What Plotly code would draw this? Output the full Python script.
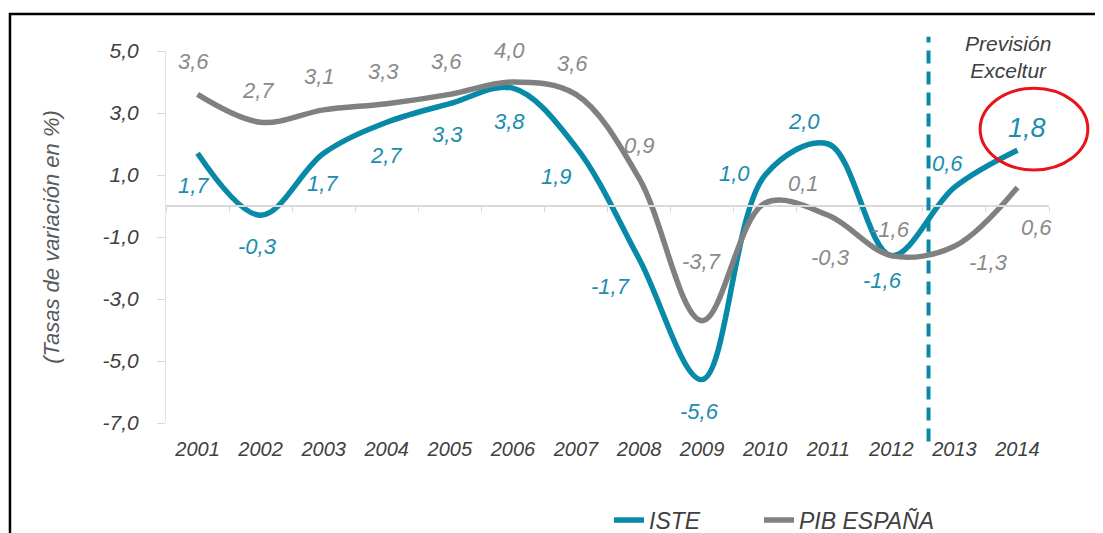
import plotly.graph_objects as go

# ---- data ----
years = [str(y) for y in range(2001, 2015)]
iste = [1.7, -0.3, 1.7, 2.7, 3.3, 3.8, 1.9, -1.7, -5.6, 1.0, 2.0, -1.6, 0.6, 1.8]
pib = [3.6, 2.7, 3.1, 3.3, 3.6, 4.0, 3.6, 0.9, -3.7, 0.1, -0.3, -1.6, -1.3, 0.6]
y_ticks = [5, 3, 1, -1, -3, -5, -7]

# label offsets (dx, dy in screen px; dy positive = down)
iste_off = [(-4, 32), (-3, 31), (-1, 30), (-1, 33), (-2, 31), (-3, 33), (-19, 29),
            (-29, 28), (-3, 32), (-31, -2), (-24, -23), (-9, 25), (-7, -24), (10, -22)]
pib_off = [(-4, -33), (-3, -32), (-4, -33), (-3, -32), (-3, -33), (-3, -32), (-3, -31),
           (0, -33), (-1, -59), (38, -19), (2, 42), (-1, -26), (34, 16), (19, 40)]

TEAL = "#0889a8"
TEAL_TXT = "#1a8db0"
GRAY = "#808080"
GRAY_TXT = "#8a8a8a"
DARK = "#404040"
FONT = "Liberation Sans, Arial, sans-serif"


def fmt(v):
    return f"{v:.1f}".replace(".", ",")


fig = go.Figure()
fig.add_trace(go.Scatter(x=years, y=iste, name="ISTE", mode="lines", legend="legend",
                         line=dict(color=TEAL, width=5.5, shape="spline", smoothing=1.0),
                         hoverinfo="skip"))
fig.add_trace(go.Scatter(x=years, y=pib, name="PIB ESPAÑA", mode="lines", legend="legend2",
                         line=dict(color=GRAY, width=5.5, shape="spline", smoothing=1.0),
                         hoverinfo="skip"))
# helper trace for the category axis drawn at y = 0
fig.add_trace(go.Scatter(x=years, y=iste, xaxis="x2", mode="lines", opacity=0,
                         line=dict(width=0), showlegend=False, hoverinfo="skip"))

annotations = []
for i, v in enumerate(pib):
    dx, dy = pib_off[i]
    annotations.append(dict(x=i, y=v, xref="x", yref="y", text=fmt(v), showarrow=False,
                            xshift=dx, yshift=-dy,
                            font=dict(family=FONT, size=22, color=GRAY_TXT, style="italic")))
for i, v in enumerate(iste):
    dx, dy = iste_off[i]
    big = i == len(iste) - 1
    annotations.append(dict(x=i, y=v, xref="x", yref="y", text=fmt(v), showarrow=False,
                            xshift=dx, yshift=-dy,
                            font=dict(family=FONT, size=27 if big else 22, color=TEAL_TXT,
                                      style="italic")))
annotations.append(dict(x=0.9536, y=0.983, xref="paper", yref="paper",
                        text="Previsión<br>Exceltur", showarrow=False,
                        font=dict(family=FONT, size=21, color=DARK, style="italic"),
                        align="center", xanchor="center", yanchor="middle"))

shapes = [
    # outer frame
    dict(type="rect", xref="paper", yref="paper", x0=-0.1767, x1=1.08, y0=-0.35, y1=1.0995,
         line=dict(color="black", width=2.5), layer="below"),
    # forecast divider
    dict(type="line", xref="x", yref="paper", x0=11.59, x1=11.59, y0=-0.05, y1=1.038,
         line=dict(color=TEAL, width=4, dash="13px,8px")),
    # red ellipse
    dict(type="circle", xref="paper", yref="paper", x0=0.922, x1=1.044, y0=0.68, y1=0.90,
         line=dict(color="#e8141b", width=3)),
]

legend_font = dict(family=FONT, size=23, color=DARK, style="italic")

fig.update_layout(
    width=1095, height=525,
    margin=dict(l=158, r=54, t=43, b=110, autoexpand=False),
    paper_bgcolor="white", plot_bgcolor="white",
    separators=",.",
    font=dict(family=FONT, color=DARK),
    xaxis=dict(type="category", categoryarray=years, range=[-0.5, 13.5],
               showline=False, showgrid=False, zeroline=False, ticks="",
               ticklabelstandoff=12,
               tickfont=dict(family=FONT, size=20, color=DARK, style="italic")),
    xaxis2=dict(type="category", categoryarray=years, range=[-0.5, 13.5],
                overlaying="x", anchor="free", position=7 / 12,
                showline=True, linecolor="#d9d9d9", linewidth=1.5,
                ticks="outside", tickson="boundaries", ticklen=5, tickcolor="#d9d9d9",
                showticklabels=False, showgrid=False, zeroline=False),
    yaxis=dict(range=[-7, 5], tickvals=y_ticks, ticktext=[fmt(t) for t in y_ticks],
               showline=True, linecolor="#e3e3e3", linewidth=1,
               ticks="outside", ticklen=8, tickcolor="#d9d9d9",
               showgrid=False, zeroline=False, ticklabelstandoff=14,
               tickfont=dict(family=FONT, size=21, color=DARK, style="italic"),
               title=dict(text="(Tasas de variación en %)", standoff=36,
                          font=dict(family=FONT, size=22, color="#595959", style="italic"))),
    showlegend=True,
    legend=dict(orientation="h", x=0.5017, xanchor="left", y=-0.261, yanchor="middle",
                font=legend_font, bgcolor="rgba(0,0,0,0)"),
    legend2=dict(orientation="h", x=0.6716, xanchor="left", y=-0.261, yanchor="middle",
                 font=legend_font, bgcolor="rgba(0,0,0,0)"),
    annotations=annotations,
    shapes=shapes,
)

fig.write_html("out.html")
